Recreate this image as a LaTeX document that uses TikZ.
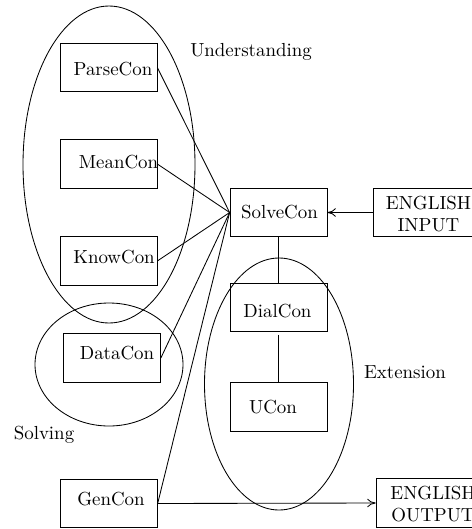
\documentclass[tikz,border=0pt]{standalone}
\usetikzlibrary{arrows.meta}
\begin{document}
\begin{tikzpicture}[x=0.5291pt,y=-0.5291pt,
  box/.style={draw,rectangle,inner sep=0pt,minimum width=51.3pt,minimum height=25.6pt},
  widebox/.style={box,minimum width=56pt},
  txt/.style={inner sep=0pt,font=\normalsize},
  conn/.style={line width=0.45pt},
  arr/.style={conn,-{To[length=4.5pt,width=4.5pt]}},
  group/.style={line width=0.45pt}]
\useasboundingbox (0,0) rectangle (472,529);
\clip (0,0) rectangle (472,529);
% group ellipses
\draw[group] (109,164.5) ellipse [x radius=86, y radius=158.5];
\draw[group] (109,364.5) ellipse [x radius=74, y radius=61.5];
\draw[group] (279,384) ellipse [x radius=74.5, y radius=126];
% boxes
\node[box] (pb) at (108.5,67.5) {};
\node[box] (mb) at (108.5,164) {};
\node[box] (kb) at (108.5,261) {};
\node[box] (db) at (112,358) {};
\node[box] (gb) at (108.8,503.5) {};
\node[box] (sb) at (278.5,212.5) {};
\node[box] (dlb) at (278.5,307.5) {};
\node[box] (ub) at (278.5,407) {};
\node[widebox] (eib) at (426,212.5) {};
\node[widebox] (eob) at (429,503) {};
% texts
\node[txt] (pt) at (113,69) {ParseCon};
\node[txt] (mt) at (118.5,162) {MeanCon};
\node[txt] (kt) at (114,257) {KnowCon};
\node[txt] (dt) at (117,353) {DataCon};
\node[txt] (gt) at (111,499) {GenCon};
\node[txt] (st) at (279.5,212) {SolveCon};
\node[txt] (dlt) at (277.5,311) {DialCon};
\node[txt] (ut) at (273,407) {UCon};
\node[txt,align=center] (eit) at (428.5,214) {ENGLISH\\INPUT};
\node[txt,align=center] (eot) at (433,504) {ENGLISH\\OUTPUT};
\node[txt] (lu) at (251,52) {Understanding};
\node[txt] (le) at (405,372) {Extension};
\node[txt] (ls) at (44,435) {Solving};
% connectors
\draw[conn] (pb.east) -- (sb.west);
\draw[conn] (mb.east) -- (sb.west);
\draw[conn] (kb.east) -- (sb.west);
\draw[conn] (db.east) -- (sb.west);
\draw[conn] (gb.east) -- (sb.west);
\draw[conn] (sb.south) -- (dlb.north);
\draw[conn] ([yshift=-1.5pt]dlb.south) -- (ub.north);
\draw[arr] (eib.west) -- (sb.east);
\draw[arr] (gb.east) -- (eob.west);
\end{tikzpicture}
\end{document}
